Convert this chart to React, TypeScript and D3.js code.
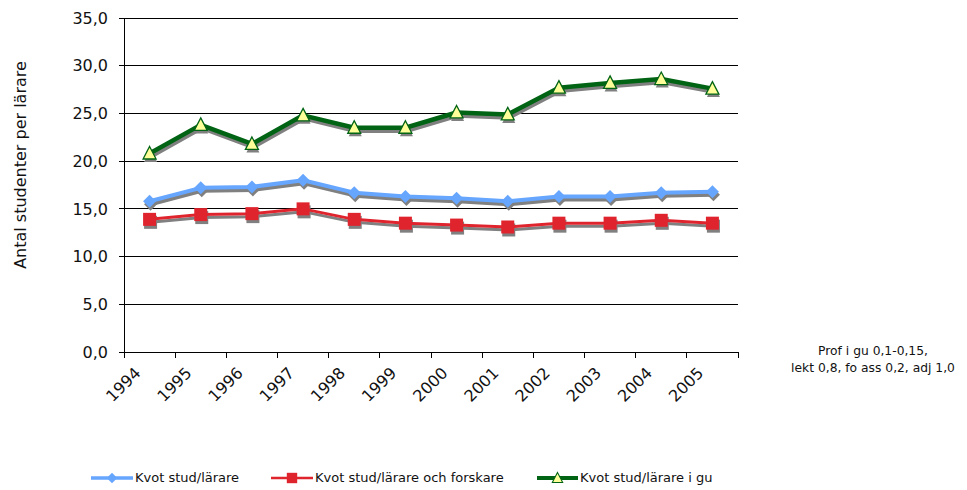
import React from "react";
import * as d3 from "d3";

const years = ["1994", "1995", "1996", "1997", "1998", "1999", "2000", "2001", "2002", "2003", "2004", "2005"];
const kvot = [15.8, 17.2, 17.3, 18.0, 16.7, 16.3, 16.1, 15.8, 16.3, 16.3, 16.7, 16.8];
const kvotForskare = [13.9, 14.4, 14.5, 15.0, 13.9, 13.5, 13.3, 13.1, 13.5, 13.5, 13.8, 13.5];
const kvotGu = [20.8, 23.8, 21.8, 24.8, 23.5, 23.5, 25.1, 24.9, 27.7, 28.2, 28.6, 27.6];
const yTicks = [0, 5, 10, 15, 20, 25, 30, 35];
const seriesNames = ["Kvot stud/lärare", "Kvot stud/lärare och forskare", "Kvot stud/lärare i gu"];
const noteLines = ["Prof i gu 0,1-0,15,", "lekt 0,8, fo ass 0,2, adj 1,0"];

const W = 967, H = 490;
const left = 124, right = 738, top = 18, bottom = 352;
const FONT = "Verdana, 'DejaVu Sans', sans-serif";

type Marker = "diamond" | "square" | "triangle";
const series = [
  { name: seriesNames[0], values: kvot, color: "#66a6ff", fill: "#66a6ff", marker: "diamond" as Marker, width: 4 },
  { name: seriesNames[1], values: kvotForskare, color: "#e0242e", fill: "#e0242e", marker: "square" as Marker, width: 3 },
  { name: seriesNames[2], values: kvotGu, color: "#006414", fill: "#ffff99", marker: "triangle" as Marker, width: 4.5 },
];

function markerPath(m: Marker): string {
  if (m === "diamond") return "M0,-6.5L6.5,0L0,6.5L-6.5,0Z";
  if (m === "square") return "M-6.5,-6.5H6.5V6.5H-6.5Z";
  return "M0,-7L6.5,5.5H-6.5Z";
}

export default function App() {
  const x = d3.scaleBand<string>().domain(years).range([left, right]).padding(0);
  const y = d3.scaleLinear().domain([0, 35]).range([bottom, top]);
  const cx = (yr: string) => (x(yr) as number) + x.bandwidth() / 2;
  const fmt = (v: number) => d3.format(".1f")(v).replace(".", ",");
  const line = d3.line<number>().x((_, i) => cx(years[i])).y((v) => y(v));
  const tickXs = [...years.map((yr) => x(yr) as number), right];

  const legendItems = [
    { lx: 91, tx: 135 },
    { lx: 271, tx: 315 },
    { lx: 537, tx: 580 },
  ];

  return (
    <svg width={W} height={H} style={{ position: "absolute", left: 0, top: 0, background: "#fff" }} fontFamily={FONT}>
      {yTicks.map((t) => (
        <line key={t} x1={left - 5} x2={right} y1={y(t)} y2={y(t)} stroke="#000" strokeWidth={1} shapeRendering="crispEdges" />
      ))}
      <line x1={left} x2={left} y1={top} y2={bottom} stroke="#000" shapeRendering="crispEdges" />
      {tickXs.map((tx, i) => (
        <line key={i} x1={tx} x2={tx} y1={bottom} y2={bottom + 6} stroke="#000" shapeRendering="crispEdges" />
      ))}
      {yTicks.map((t) => (
        <text key={t} x={108} y={y(t)} dy="0.36em" textAnchor="end" fontSize={16} fill="#111">
          {fmt(t)}
        </text>
      ))}
      {years.map((yr) => (
        <text key={yr} transform={`translate(${cx(yr) - 8},${bottom + 22}) rotate(-45)`} textAnchor="end" fontSize={16} fill="#111">
          {yr}
        </text>
      ))}
      <text transform={`translate(26,165) rotate(-90)`} textAnchor="middle" fontSize={16} fill="#111">
        Antal studenter per lärare
      </text>
      {series.map((s) => (
        <g key={s.name}>
          <g transform="translate(1,3)">
            <path d={line(s.values) as string} fill="none" stroke="#808080" strokeWidth={s.width} strokeLinejoin="round" />
            {s.values.map((v, i) => (
              <path key={i} d={markerPath(s.marker)} transform={`translate(${cx(years[i])},${y(v)})`} fill="#808080" />
            ))}
          </g>
          <path d={line(s.values) as string} fill="none" stroke={s.color} strokeWidth={s.width} strokeLinejoin="round" />
          {s.values.map((v, i) => (
            <path
              key={i}
              d={markerPath(s.marker)}
              transform={`translate(${cx(years[i])},${y(v)})`}
              fill={s.fill}
              stroke={s.marker === "triangle" ? s.color : "none"}
              strokeWidth={1.3}
            />
          ))}
        </g>
      ))}
      {noteLines.map((l, i) => (
        <text key={i} x={873} y={355 + i * 16.5} textAnchor="middle" fontSize={12.3} fill="#111">
          {l}
        </text>
      ))}
      {series.map((s, i) => {
        const it = legendItems[i];
        return (
          <g key={s.name}>
            <line x1={it.lx} x2={it.tx - 2} y1={478} y2={478} stroke={s.color} strokeWidth={s.width - 0.5} />
            <path
              d={markerPath(s.marker)}
              transform={`translate(${(it.lx + it.tx - 2) / 2},478) scale(0.8)`}
              fill={s.fill}
              stroke={s.marker === "triangle" ? s.color : "none"}
              strokeWidth={1.3}
            />
            <text x={it.tx} y={482} fontSize={13} fill="#111">
              {s.name}
            </text>
          </g>
        );
      })}
    </svg>
  );
}
